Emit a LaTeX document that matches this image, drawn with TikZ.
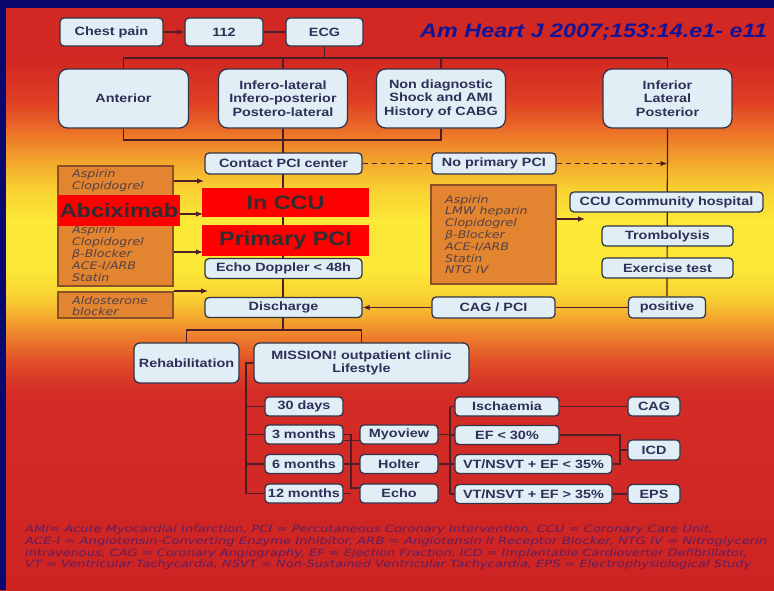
\documentclass[tikz,border=0pt]{standalone}
\usepackage{fontspec}
\usepackage{graphicx}
\setmainfont{Liberation Sans}[FakeStretch=1.2]
\newfontfamily\drugfont{DejaVu Sans}[FakeStretch=1.2]
\usetikzlibrary{arrows.meta}
\definecolor{navy}{RGB}{8,8,110}
\definecolor{boxfill}{RGB}{226,238,245}
\definecolor{boxline}{RGB}{50,52,72}
\definecolor{boxtext}{RGB}{45,48,88}
\definecolor{drugfill}{RGB}{226,132,48}
\definecolor{drugline}{RGB}{140,80,40}
\definecolor{drugtxt}{RGB}{85,65,70}
\definecolor{redtext}{RGB}{50,45,50}
\definecolor{linec}{RGB}{75,30,40}
\definecolor{refblue}{RGB}{20,20,150}
\definecolor{foot}{RGB}{95,30,95}
\definecolor{bg1}{RGB}{210,40,35}
\definecolor{bg2}{RGB}{222,62,36}
\definecolor{bg3}{RGB}{235,110,40}
\definecolor{bg4}{RGB}{243,165,45}
\definecolor{bg5}{RGB}{249,210,50}
\definecolor{bg6}{RGB}{251,232,55}
\definecolor{bg7}{RGB}{248,205,50}
\definecolor{bg8}{RGB}{240,140,45}
\definecolor{bg9}{RGB}{225,80,40}
\definecolor{bg10}{RGB}{212,45,38}
\definecolor{bg11}{RGB}{205,35,35}
\pgfdeclarelayer{back}
\pgfdeclarelayer{lines}
\pgfsetlayers{back,lines,main}
\tikzset{
 box/.style={draw=boxline, line width=1.3pt, fill=boxfill, text=boxtext, rounded corners=4pt, inner sep=0pt, align=center, font=\bfseries\fontsize{12}{13.5}\selectfont},
 bigbox/.style={box, rounded corners=9pt},
 drugbox/.style={draw=drugline, line width=1.2pt, fill=drugfill, inner sep=0pt},
 drugtext/.style={text=drugtxt, font=\drugfont\itshape\fontsize{10.5}{11.8}\selectfont, align=left, inner sep=0pt, anchor=west},
 redlab/.style={fill=red, text=redtext, inner sep=0pt, font=\bfseries\fontsize{19.5}{20}\selectfont},
 conn/.style={draw=linec, line width=1.2pt},
 arr/.style={conn, -{Latex[length=7pt,width=5.5pt]}},
 footline/.style={text=foot, inner sep=0pt, anchor=base west, font=\drugfont\itshape\fontsize{10}{11}\selectfont}
}
\begin{document}
\begin{tikzpicture}[x=1pt,y=-1pt]
\useasboundingbox (0,0) rectangle (774,590);
\begin{pgfonlayer}{back}
\fill[bg1] (0,0) rectangle (774,60);
\shade[top color=bg1,bottom color=bg2] (0,59.5) rectangle (774,100.5);
\shade[top color=bg2,bottom color=bg3] (0,100) rectangle (774,130.5);
\shade[top color=bg3,bottom color=bg4] (0,130) rectangle (774,160.5);
\shade[top color=bg4,bottom color=bg5] (0,160) rectangle (774,190.5);
\shade[top color=bg5,bottom color=bg6] (0,190) rectangle (774,220.5);
\fill[bg6] (0,220) rectangle (774,270.5);
\shade[top color=bg6,bottom color=bg7] (0,270) rectangle (774,300.5);
\shade[top color=bg7,bottom color=bg8] (0,300) rectangle (774,330.5);
\shade[top color=bg8,bottom color=bg9] (0,330) rectangle (774,360.5);
\shade[top color=bg9,bottom color=bg10] (0,360) rectangle (774,390.5);
\shade[top color=bg10,bottom color=bg11] (0,390) rectangle (774,590);
\fill[navy] (0,0) rectangle (774,8);
\fill[navy] (0,0) rectangle (6,590);
\end{pgfonlayer}

% reference
\node[anchor=base west, inner sep=0pt, text=refblue, font=\bfseries\itshape\fontsize{19.5}{20}\selectfont] (ref) at (420,37.5) {Am Heart J 2007;153:14.e1- e11};

% top row
\node[box, minimum width=103pt, minimum height=28pt] (chest) at (111.5,32) {Chest pain};
\node[box, minimum width=78pt, minimum height=28pt] (n112) at (224,32) {112};
\node[box, minimum width=77pt, minimum height=28pt] (ecg) at (324.5,32) {ECG};

\node[bigbox, minimum width=130pt, minimum height=59pt] (ant) at (123.5,98.5) {Anterior};
\node[bigbox, minimum width=129pt, minimum height=59pt] (inf) at (283,98.5) {Infero-lateral\\Infero-posterior\\Postero-lateral};
\node[bigbox, minimum width=129pt, minimum height=59pt] (nond) at (441,98.5) {Non diagnostic\\Shock and AMI\\History of CABG};
\node[bigbox, minimum width=129pt, minimum height=59pt] (infr) at (667.5,98.5) {Inferior\\Lateral\\Posterior};

% PCI column
\node[box, minimum width=157pt, minimum height=21pt] (pci) at (283.5,163.5) {Contact PCI center};
\node[box, minimum width=124pt, minimum height=21pt] (nopci) at (494,163.5) {No primary PCI};
\node[box, minimum width=157pt, minimum height=20pt] (echo) at (283.5,268.5) {Echo Doppler < 48h};
\node[box, minimum width=157pt, minimum height=20pt] (discharge) at (283.5,307.5) {Discharge};

% left drug boxes
\node[drugbox, minimum width=115pt, minimum height=120pt] (drugs1) at (115.5,226) {};
\node[drugtext] (d1a) at (72,180.5) {Aspirin\\Clopidogrel};
\node[drugtext] (d1b) at (72,253.5) {Aspirin\\Clopidogrel\\β-Blocker\\ACE-I/ARB\\Statin};
\node[drugbox, minimum width=115pt, minimum height=26pt] (aldo) at (115.5,305) {};
\node[drugtext] (aldot) at (72,306) {Aldosterone\\blocker};

% red labels
\node[redlab, minimum width=122pt, minimum height=31pt] (abc) at (119,210.5) {Abciximab};
\node[redlab, minimum width=167pt, minimum height=29pt] (inccu) at (285.5,202.5) {In CCU};
\node[redlab, minimum width=167pt, minimum height=31pt] (ppci) at (285.5,240.5) {Primary PCI};

% right column
\node[drugbox, minimum width=125pt, minimum height=99pt] (drugs2) at (493.5,234.5) {};
\node[drugtext] (d2t) at (445,234.5) {Aspirin\\LMW heparin\\Clopidogrel\\β-Blocker\\ACE-I/ARB\\Statin\\NTG IV};
\node[box, minimum width=193pt, minimum height=20pt] (ccu) at (666.5,202) {CCU Community hospital};
\node[box, minimum width=131pt, minimum height=20pt] (tromb) at (667.5,236) {Trombolysis};
\node[box, minimum width=131pt, minimum height=20pt] (exer) at (667.5,268) {Exercise test};
\node[box, minimum width=77pt, minimum height=21pt] (pos) at (667,307.5) {positive};
\node[box, minimum width=123pt, minimum height=21pt] (cagpci) at (493.5,307.5) {CAG / PCI};

% bottom
\node[box, rounded corners=6pt, minimum width=105pt, minimum height=40pt] (rehab) at (186.5,363) {Rehabilitation};
\node[box, rounded corners=6pt, minimum width=215pt, minimum height=40pt] (mission) at (361.5,363) {MISSION! outpatient clinic\\Lifestyle};
\node[box, minimum width=78pt, minimum height=19pt] (d30) at (304,406.5) {30 days};
\node[box, minimum width=78pt, minimum height=19pt] (m3) at (304,434.5) {3 months};
\node[box, minimum width=78pt, minimum height=19pt] (m6) at (304,464) {6 months};
\node[box, minimum width=78pt, minimum height=19pt] (m12) at (304,493.5) {12 months};
\node[box, minimum width=78pt, minimum height=19pt] (myo) at (399,434.5) {Myoview};
\node[box, minimum width=78pt, minimum height=19pt] (holter) at (399,464) {Holter};
\node[box, minimum width=78pt, minimum height=19pt] (echo2) at (399,493.5) {Echo};
\node[box, minimum width=104pt, minimum height=19pt] (isch) at (507,406.5) {Ischaemia};
\node[box, minimum width=104pt, minimum height=19pt] (ef30) at (507,435) {EF < 30\%};
\node[box, minimum width=157pt, minimum height=19pt] (vtl) at (533.5,464) {VT/NSVT + EF < 35\%};
\node[box, minimum width=157pt, minimum height=19pt] (vtg) at (533.5,494) {VT/NSVT + EF > 35\%};
\node[box, minimum width=52pt, minimum height=19pt] (cag) at (654,406.5) {CAG};
\node[box, minimum width=52pt, minimum height=20pt] (icd) at (654,450) {ICD};
\node[box, minimum width=52pt, minimum height=19pt] (eps) at (654,494) {EPS};

% footer
\node[footline] (f1) at (25,532) {\resizebox{688pt}{7.6pt}{AMI= Acute Myocardial Infarction, PCI = Percutaneous Coronary Intervention, CCU = Coronary Care Unit,}};
\node[footline] (f2) at (25,544.5) {\resizebox{742pt}{7.6pt}{ACE-I = Angiotensin-Converting Enzyme Inhibitor, ARB = Angiotensin II Receptor Blocker, NTG IV = Nitroglycerin}};
\node[footline] (f3) at (25,556.5) {\resizebox{722pt}{7.6pt}{intravenous, CAG = Coronary Angiography, EF = Ejection Fraction, ICD = Implantable Cardioverter Defibrillator,}};
\node[footline] (f4) at (25,567.5) {\resizebox{726pt}{7.6pt}{VT = Ventricular Tachycardia, NSVT = Non-Sustained Ventricular Tachycardia, EPS = Electrophysiological Study}};

% connectors
\coordinate (bus) at (0,58);
\coordinate (hb) at (0,140);
\coordinate (split) at (0,330);
\coordinate (lb) at (246,0);
\coordinate (rb) at (450,0);
\coordinate (mb) at (351,0);
\coordinate (ib) at (620,0);
\coordinate (l1) at (204,181);
\coordinate (l2) at (203,214);
\coordinate (l3) at (203,252);
\coordinate (l4) at (208,291);
\coordinate (a2) at (585,219);
\begin{pgfonlayer}{lines}
\draw[arr] (chest.east) -- (n112.west);
\draw[conn] (n112.east) -- (ecg.west);
\draw[conn] (ecg.south) -- (ecg.south |- bus);
\draw[conn] (ant.north) -- (ant.north |- bus) -- (infr.north |- bus) -- (infr.north);
\draw[conn] (inf.north) -- (inf.north |- bus);
\draw[conn] (nond.north) -- (nond.north |- bus);
\draw[conn] (ant.south) -- (ant.south |- hb) -- (nond.south |- hb) -- (nond.south);
\draw[conn] (inf.south) -- (inf.south |- split);
\draw[conn] (infr.south) -- (pos.north);
\draw[conn, dash pattern=on 5pt off 4pt] (pci.east) -- (nopci.west);
\draw[arr, dash pattern=on 5pt off 4pt] (nopci.east) -- (nopci.east -| infr.south);
\draw[arr] (drugs1.east |- l1) -- (l1);
\draw[arr] (abc.east |- l2) -- (l2);
\draw[arr] (drugs1.east |- l3) -- (l3);
\draw[arr] (aldo.east |- l4) -- (l4);
\draw[arr] (drugs2.east |- a2) -- (a2);
\draw[conn] (pos.west) -- (cagpci.east);
\draw[arr] (cagpci.west) -- (discharge.east);
\draw[conn] (rehab.north) -- (rehab.north |- split) -- (mission.north |- split) -- (mission.north);
\draw[conn] (mission.west) -- (mission.west -| lb) -- (m12.west -| lb) -- (m12.west);
\draw[conn] (d30.west -| lb) -- (d30.west);
\draw[conn] (m3.west -| lb) -- (m3.west);
\draw[conn] (m6.west -| lb) -- (m6.west);
\draw[conn] ([yshift=-6pt]m3.east) -- ([yshift=-6pt]myo.west);
\draw[conn] (m3.east) -- (m3.east -| mb) -- ([yshift=5.5pt]echo2.west -| mb) -- ([yshift=5.5pt]echo2.west);
\draw[conn] (m6.east) -- (holter.west);
\draw[conn] (m12.east) -- (m12.east -| mb);
\draw[conn] (myo.east) -- (myo.east -| rb);
\draw[conn] (holter.east) -- (holter.east -| rb);
\draw[conn] (isch.west -| rb) -- (vtg.west -| rb);
\draw[conn] (isch.west -| rb) -- (isch.west);
\draw[conn] (ef30.west -| rb) -- (ef30.west);
\draw[conn] (vtl.west -| rb) -- (vtl.west);
\draw[conn] (vtg.west -| rb) -- (vtg.west);
\draw[conn] (isch.east) -- (cag.west);
\draw[conn] (ef30.east) -- (ef30.east -| ib) -- (vtl.east -| ib) -- (vtl.east);
\draw[conn] (icd.west -| ib) -- (icd.west);
\draw[conn] (vtg.east) -- (eps.west);
\end{pgfonlayer}
\end{tikzpicture}
\end{document}
